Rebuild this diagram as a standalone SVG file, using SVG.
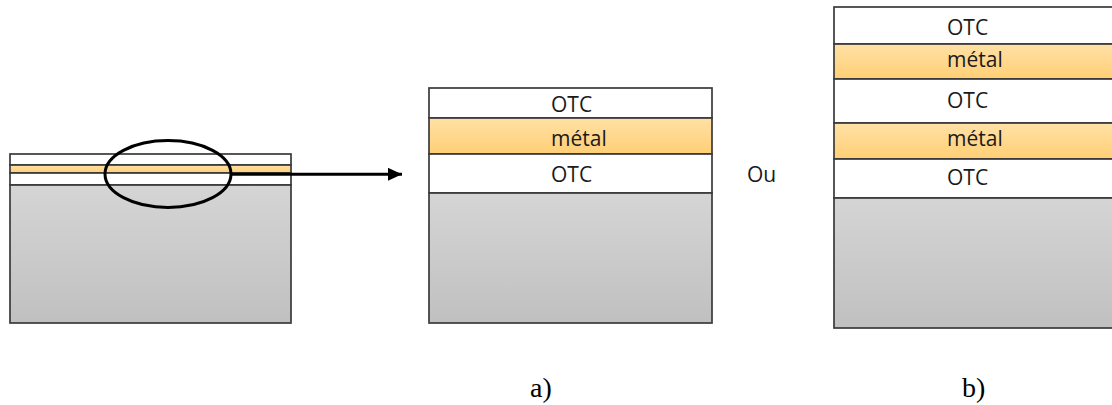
<svg xmlns="http://www.w3.org/2000/svg" width="1112" height="405" viewBox="0 0 1112 405">
<defs>
<linearGradient id="gMetal" x1="0" y1="0" x2="0" y2="1"><stop offset="0" stop-color="#FFE1A6"/><stop offset="1" stop-color="#FFCF75"/></linearGradient>
<linearGradient id="gSub" x1="0" y1="0" x2="0" y2="1"><stop offset="0" stop-color="#D5D5D5"/><stop offset="1" stop-color="#C0C0C0"/></linearGradient>
<marker id="ah" markerWidth="14" markerHeight="13" refX="14" refY="6.5" orient="auto" markerUnits="userSpaceOnUse"><path d="M0,0 L14,6.5 L0,13 Z" fill="#000"/></marker>
</defs>
<style>
.otc{fill:#fff;stroke:#3a3a3a;stroke-width:1.7}
.met{fill:url(#gMetal);stroke:#3a3a3a;stroke-width:1.7}
.sub{fill:url(#gSub);stroke:#3a3a3a;stroke-width:1.7}
.lbl{font-family:"Open Sans","Liberation Sans",sans-serif;font-size:21px;fill:#1a1a1a}
.cap{font-family:"Liberation Serif",serif;font-size:28px;fill:#000}
</style>
<rect width="1112" height="405" fill="#fff"/>
<g id="stack-left">
<rect class="otc" x="10" y="154" width="281" height="11"/>
<rect class="met" x="10" y="165" width="281" height="8"/>
<rect class="otc" x="10" y="173" width="281" height="12"/>
<rect class="sub" x="10" y="185" width="281" height="138"/>
</g>
<g id="zoom-ellipse">
<ellipse cx="168" cy="174" rx="63" ry="33.5" fill="none" stroke="#000" stroke-width="3"/>
</g>
<g id="connectors">
<line x1="231" y1="174.3" x2="402" y2="174.3" stroke="#000" stroke-width="3" marker-end="url(#ah)"/>
</g>
<g id="stack-a">
<rect class="otc" x="429" y="88" width="283" height="30"/>
<rect class="met" x="429" y="118" width="283" height="36"/>
<rect class="otc" x="429" y="154" width="283" height="39"/>
<rect class="sub" x="429" y="193" width="283" height="130"/>
<text class="lbl" x="551" y="112">OTC</text>
<text class="lbl" x="551" y="146">métal</text>
<text class="lbl" x="551" y="182">OTC</text>
</g>
<g id="ou"><text class="lbl" x="747" y="182">Ou</text></g>
<g id="stack-b">
<rect class="otc" x="834" y="7" width="290" height="37"/>
<rect class="met" x="834" y="44" width="290" height="35"/>
<rect class="otc" x="834" y="79" width="290" height="44"/>
<rect class="met" x="834" y="123" width="290" height="36"/>
<rect class="otc" x="834" y="159" width="290" height="39"/>
<rect class="sub" x="834" y="198" width="290" height="130"/>
<text class="lbl" x="947" y="35">OTC</text>
<text class="lbl" x="947" y="67">métal</text>
<text class="lbl" x="947" y="108">OTC</text>
<text class="lbl" x="947" y="146">métal</text>
<text class="lbl" x="947" y="185">OTC</text>
</g>
<g id="captions">
<text class="cap" x="530" y="397">a)</text>
<text class="cap" x="962" y="397">b)</text>
</g>
</svg>
